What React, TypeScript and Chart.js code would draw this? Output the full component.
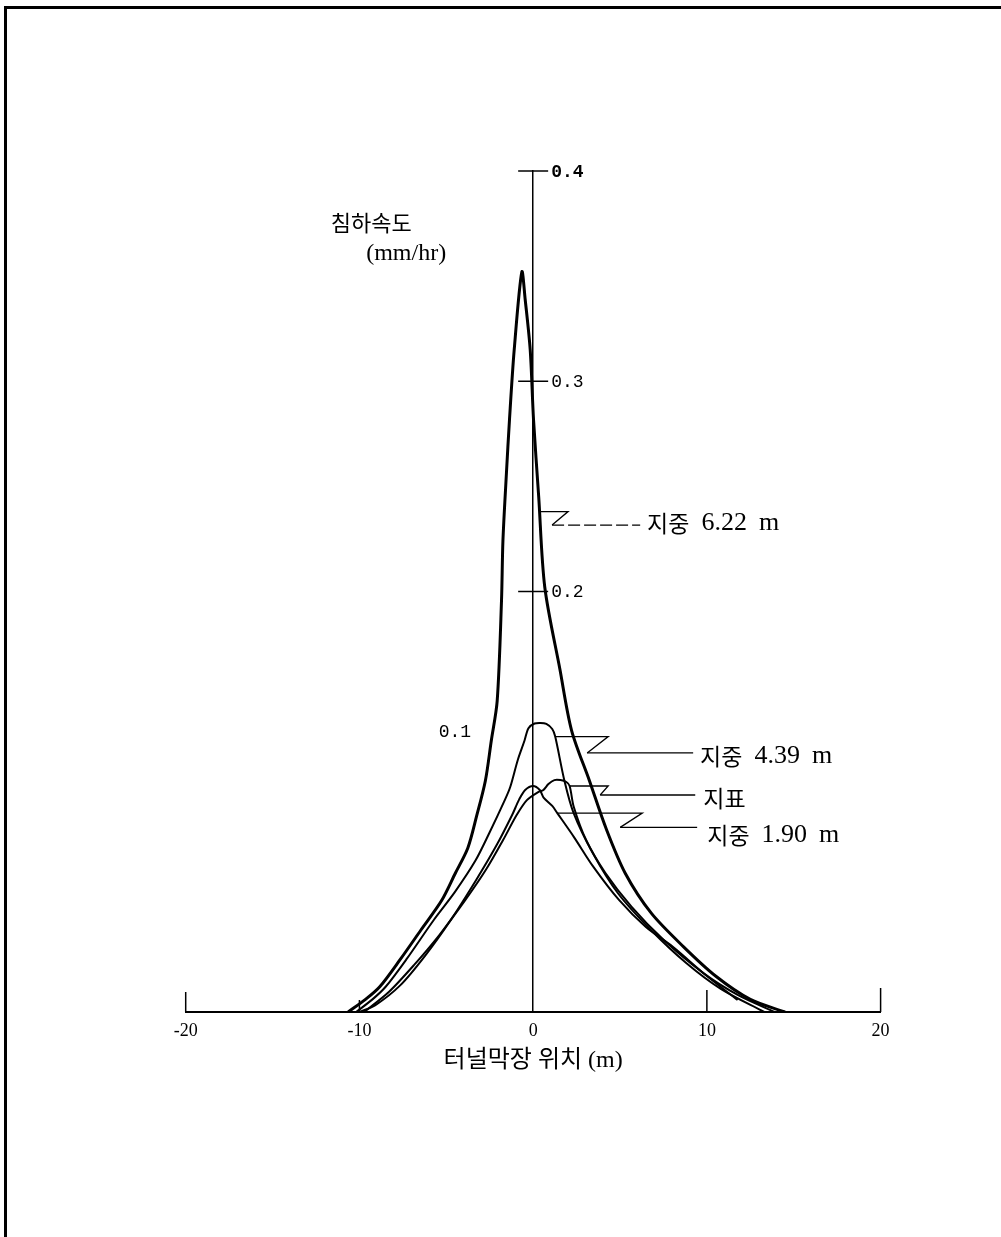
import React, { useEffect, useRef } from "react";
import { Chart, registerables } from "chart.js";

Chart.register(...registerables);

// ---- axis ticks ----
const xTickValues = [-20, -10, 0, 10, 20];
const xTickLabels = ["-20", "-10", "0", "10", "20"];
const yTickValues = [0.1, 0.2, 0.3, 0.4];
const yTickLabels = ["0.1", "0.2", "0.3", "0.4"];

// ---- series (x: 터널막장 위치 m, y: 침하속도 mm/hr) ----
const names = ["지중 6.22 m", "지중 4.39 m", "지표", "지중 1.90 m"];

const depth622X = [-10.65, -9.65, -8.83, -7.65, -6.46, -5.27, -4.48, -3.76, -3.26, -2.75, -2.41, -2.07, -1.82, -1.74, -1.54, -1.36, -1.09, -0.65, -0.46, -0.17, 0.02, 0.32, 0.67, 1.54, 2.21, 3.24, 4.21, 5.3, 6.8, 8.66, 10.52, 12.5, 14.5];
const depth622Y = [0, 0.006, 0.012, 0.025, 0.039, 0.053, 0.066, 0.078, 0.093, 0.11, 0.129, 0.148, 0.196, 0.224, 0.256, 0.282, 0.315, 0.352, 0.339, 0.315, 0.282, 0.245, 0.202, 0.163, 0.134, 0.11, 0.087, 0.066, 0.047, 0.031, 0.017, 0.006, 0];

const depth439X = [-10.19, -9.25, -8.49, -7.3, -5.7, -4.51, -3.32, -2.53, -1.62, -1.32, -0.88, -0.5, -0.27, 0.08, 0.42, 0.76, 1.1, 1.27, 1.8, 2.33, 3.43, 4.87, 6.78, 8.81, 10.8, 13.3];
const depth439Y = [0, 0.006, 0.012, 0.025, 0.044, 0.057, 0.072, 0.085, 0.101, 0.107, 0.12, 0.129, 0.135, 0.1372, 0.1375, 0.137, 0.1346, 0.131, 0.11, 0.0946, 0.0756, 0.0566, 0.039, 0.0233, 0.011, 0];

const surfaceX = [-9.73, -8.31, -6.85, -5.4, -3.9, -2.73, -1.73, -0.95, -0.36, 0.29, 0.59, 0.88, 1.22, 1.57, 1.91, 2.1, 2.34, 3.05, 4.16, 5.67, 7.52, 9.78, 11.8, 13.9];
const surfaceY = [0, 0.0095, 0.0224, 0.0366, 0.0533, 0.0675, 0.0818, 0.0937, 0.1008, 0.1046, 0.1056, 0.1084, 0.1103, 0.1103, 0.1094, 0.1075, 0.0975, 0.0818, 0.0661, 0.05, 0.0342, 0.0186, 0.008, 0];

const depth190X = [-10.0, -9.08, -7.64, -6.19, -4.74, -3.28, -2.1, -1.21, -0.81, -0.46, 0.0, 0.38, 0.6, 1.1, 1.39, 2.35, 3.47, 4.94, 6.49, 8.04, 9.93, 11.77];
const depth190Y = [0, 0.0033, 0.0128, 0.0271, 0.0438, 0.0628, 0.0794, 0.0937, 0.101, 0.1056, 0.1075, 0.1056, 0.102, 0.098, 0.0946, 0.0832, 0.069, 0.0533, 0.0404, 0.031, 0.0176, 0.0057];

// ---- leader annotations (data coordinates) ----
const leaderAnchorX = [0.38, 1.27, 2.1, 1.39];
const leaderAnchorY = [0.238, 0.131, 0.1075, 0.0946];
const leaderJogX = [2.01, 4.32, 4.32, 6.28];
const leaderBackX = [1.09, 3.11, 3.86, 5.01];
const leaderLineY = [0.2316, 0.1232, 0.1032, 0.0878];
const leaderEndX = [6.16, 9.21, 9.33, 9.44];
const labelX = [6.56, 9.61, 9.79, 10.02];
const labelY = [0.2326, 0.1218, 0.1018, 0.0842];

// ---- styles ----
const lineWidths = [3, 2, 2, 2];
const xTickMarkLen = [20, 12, 0, 22, 24];
const HANGUL_FONT = "23px 'Noto Sans CJK KR', sans-serif";
const LATIN_FONT = "26px 'Liberation Serif', serif";

const xs = [depth622X, depth439X, surfaceX, depth190X];
const ys = [depth622Y, depth439Y, surfaceY, depth190Y];

function drawParts(ctx: CanvasRenderingContext2D, text: string, x: number, y: number, gap: number) {
  let cx = x;
  text.split(" ").forEach((p) => {
    ctx.font = /[\uAC00-\uD7A3]/.test(p) ? HANGUL_FONT : LATIN_FONT;
    ctx.fillText(p, cx, y);
    cx += ctx.measureText(p).width + gap;
  });
}

const overlay = {
  id: "overlay",
  afterDraw(chart: any) {
    const { ctx } = chart;
    const xs_ = chart.scales.x;
    const ys_ = chart.scales.y;
    const X = (v: number) => xs_.getPixelForValue(v);
    const Y = (v: number) => ys_.getPixelForValue(v);
    const line = (x1: number, y1: number, x2: number, y2: number) => {
      ctx.beginPath();
      ctx.moveTo(x1, y1);
      ctx.lineTo(x2, y2);
      ctx.stroke();
    };
    ctx.save();
    ctx.strokeStyle = "#000";
    ctx.fillStyle = "#000";

    // x tick marks (pointing up)
    ctx.lineWidth = 1.5;
    xTickValues.forEach((v, i) => {
      const len = xTickMarkLen[i];
      if (len > 0) line(X(v), Y(0), X(v), Y(0) - len);
    });

    // y axis tick marks and labels
    const ax = X(0);
    ctx.lineWidth = 1.5;
    ctx.textBaseline = "middle";
    yTickValues.forEach((v, i) => {
      const py = Y(v);
      if (v >= 0.2) {
        line(ax - 15, py, ax + 15, py);
        ctx.textAlign = "left";
        ctx.font = (v >= 0.4 ? "bold " : "") + "18px 'Liberation Mono', monospace";
        ctx.fillText(yTickLabels[i], ax + 18, py + 1);
      } else {
        ctx.textAlign = "right";
        ctx.font = "18px 'Liberation Mono', monospace";
        ctx.fillText(yTickLabels[i], ax - 62, py - 70);
      }
    });

    // y axis title
    ctx.textAlign = "center";
    ctx.font = "22px 'Noto Sans CJK KR', sans-serif";
    ctx.fillText("침하속도", ax - 162, Y(0.4) + 52);
    ctx.font = "24px 'Liberation Serif', serif";
    ctx.fillText("(mm/hr)", ax - 127, Y(0.4) + 83);

    // leaders + labels
    names.forEach((name, i) => {
      const ax0 = X(leaderAnchorX[i]);
      const ay0 = Y(leaderAnchorY[i]);
      const jx = X(leaderJogX[i]);
      const bx = X(leaderBackX[i]);
      const ly = Y(leaderLineY[i]);
      const ex = X(leaderEndX[i]);
      ctx.lineWidth = 1.3;
      ctx.setLineDash([]);
      ctx.beginPath();
      ctx.moveTo(ax0, ay0);
      ctx.lineTo(jx, ay0);
      ctx.lineTo(bx, ly);
      ctx.stroke();
      if (i === 0) ctx.setLineDash([12, 4]);
      line(bx, ly, ex, ly);
      ctx.setLineDash([]);
      ctx.textAlign = "left";
      ctx.textBaseline = "middle";
      drawParts(ctx, name, X(labelX[i]), Y(labelY[i]), 12);
    });
    ctx.restore();
  },
};

export default function App() {
  const ref = useRef<HTMLCanvasElement>(null);
  useEffect(() => {
    const canvas = ref.current;
    if (!canvas) return;
    const chart = new Chart(canvas, {
      type: "line",
      data: {
        datasets: names.map((name, i) => ({
          label: name,
          data: xs[i].map((x, j) => ({ x, y: ys[i][j] })),
          borderColor: "#000",
          backgroundColor: "#000",
          borderWidth: lineWidths[i],
          pointRadius: 0,
          tension: 0.3,
          fill: false,
        })),
      },
      options: {
        responsive: false,
        animation: false,
        layout: { padding: { left: 185.7, right: 120.4, top: 171, bottom: 145 } },
        plugins: {
          legend: { display: false },
          tooltip: { enabled: false },
          title: { display: false },
        },
        scales: {
          x: {
            type: "linear",
            min: -20,
            max: 20,
            position: "bottom",
            afterBuildTicks: (s: any) => {
              s.ticks = xTickValues.map((v) => ({ value: v }));
            },
            afterFit: (s: any) => {
              s.height = 80;
            },
            grid: { display: false, drawTicks: false },
            border: { display: true, color: "#000", width: 2 },
            ticks: {
              color: "#000",
              font: { family: "'Liberation Serif', serif", size: 18 },
              padding: 8,
              maxRotation: 0,
              autoSkip: false,
              callback: (v: any) => {
                const k = xTickValues.indexOf(Number(v));
                return k >= 0 ? xTickLabels[k] : "";
              },
            },
            title: {
              display: true,
              text: "터널막장 위치 (m)",
              color: "#000",
              font: { family: "'Liberation Serif', 'Noto Sans CJK KR', serif", size: 24 },
              padding: { top: 4, bottom: 17 },
            },
          },
          y: {
            type: "linear",
            min: 0,
            max: 0.4,
            position: { x: 0 } as any,
            afterBuildTicks: (s: any) => {
              s.ticks = yTickValues.map((v) => ({ value: v }));
            },
            grid: { display: true, drawOnChartArea: false, drawTicks: false, color: "rgba(0,0,0,0)" },
            border: { display: true, color: "#000", width: 1.5 },
            ticks: { display: false },
          },
        },
      } as any,
      plugins: [overlay],
    });
    return () => chart.destroy();
  }, []);

  return (
    <div style={{ position: "absolute", left: 0, top: 0, width: 1001, height: 1237, background: "#fff", overflow: "hidden" }}>
      <div
        style={{
          position: "absolute",
          left: 4,
          top: 6,
          right: 0,
          bottom: 0,
          borderTop: "3px solid #000",
          borderLeft: "3px solid #000",
        }}
      />
      <canvas ref={ref} width={1001} height={1237} style={{ position: "absolute", left: 0, top: 0 }} />
    </div>
  );
}
